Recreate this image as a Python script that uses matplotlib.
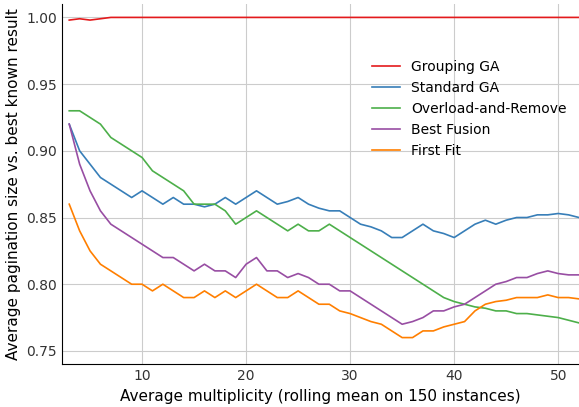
import numpy as np
import matplotlib.pyplot as plt

x = np.arange(3, 53)
grouping = [0.998, 0.999, 0.998, 0.999] + [1.0] * 46
standard = [0.92, 0.90, 0.89, 0.88, 0.875, 0.87, 0.865, 0.87, 0.865, 0.86, 0.865, 0.86, 0.86, 0.858,
            0.86, 0.865, 0.86, 0.865, 0.87, 0.865, 0.86, 0.862, 0.865, 0.86, 0.857, 0.855, 0.855, 0.85,
            0.845, 0.843, 0.84, 0.835, 0.835, 0.84, 0.845, 0.84, 0.838, 0.835, 0.84, 0.845, 0.848, 0.845,
            0.848, 0.85, 0.85, 0.852, 0.852, 0.853, 0.852, 0.85]
overload = [0.93, 0.93, 0.925, 0.92, 0.91, 0.905, 0.90, 0.895, 0.885, 0.88, 0.875, 0.87, 0.86, 0.86,
            0.86, 0.855, 0.845, 0.85, 0.855, 0.85, 0.845, 0.84, 0.845, 0.84, 0.84, 0.845, 0.84, 0.835,
            0.83, 0.825, 0.82, 0.815, 0.81, 0.805, 0.80, 0.795, 0.79, 0.787, 0.785, 0.783, 0.782, 0.78,
            0.78, 0.778, 0.778, 0.777, 0.776, 0.775, 0.773, 0.771]
fusion = [0.92, 0.89, 0.87, 0.855, 0.845, 0.84, 0.835, 0.83, 0.825, 0.82, 0.82, 0.815, 0.81, 0.815,
          0.81, 0.81, 0.805, 0.815, 0.82, 0.81, 0.81, 0.805, 0.808, 0.805, 0.80, 0.80, 0.795, 0.795,
          0.79, 0.785, 0.78, 0.775, 0.77, 0.772, 0.775, 0.78, 0.78, 0.783, 0.785, 0.79, 0.795, 0.80,
          0.802, 0.805, 0.805, 0.808, 0.81, 0.808, 0.807, 0.807]
firstfit = [0.86, 0.84, 0.825, 0.815, 0.81, 0.805, 0.80, 0.80, 0.795, 0.80, 0.795, 0.79, 0.79, 0.795,
            0.79, 0.795, 0.79, 0.795, 0.80, 0.795, 0.79, 0.79, 0.795, 0.79, 0.785, 0.785, 0.78, 0.778,
            0.775, 0.772, 0.77, 0.765, 0.76, 0.76, 0.765, 0.765, 0.768, 0.77, 0.772, 0.78, 0.785, 0.787,
            0.788, 0.79, 0.79, 0.79, 0.792, 0.79, 0.79, 0.789]

series = [("Grouping GA", grouping, "#e41a1c"), ("Standard GA", standard, "#377eb8"),
          ("Overload-and-Remove", overload, "#4daf4a"), ("Best Fusion", fusion, "#984ea3"),
          ("First Fit", firstfit, "#ff7f00")]

fig = plt.figure(figsize=(5.79, 4.07), dpi=100)
ax = fig.add_axes([0.107, 0.105, 0.893, 0.885])
for name, ys, c in series:
    ax.plot(x, ys, color=c, lw=1.2, label=name)
ax.set_xlim(2.3, 52)
ax.set_ylim(0.74, 1.01)
ax.set_xticks([10, 20, 30, 40, 50])
ax.set_yticks([0.75, 0.8, 0.85, 0.9, 0.95, 1.0])
ax.grid(color="#cccccc", lw=0.8)
for s in ["top", "right"]:
    ax.spines[s].set_visible(False)
for s in ["left", "bottom"]:
    ax.spines[s].set_color("black")
ax.tick_params(labelsize=10, colors="#333333", length=0)
ax.set_xlabel("Average multiplicity (rolling mean on 150 instances)", fontsize=11)
ax.set_ylabel("Average pagination size vs. best known result", fontsize=11)
ax.legend(loc="upper right", bbox_to_anchor=(1.0, 0.88), frameon=False, fontsize=10)
fig.savefig("out.png", dpi=100)
